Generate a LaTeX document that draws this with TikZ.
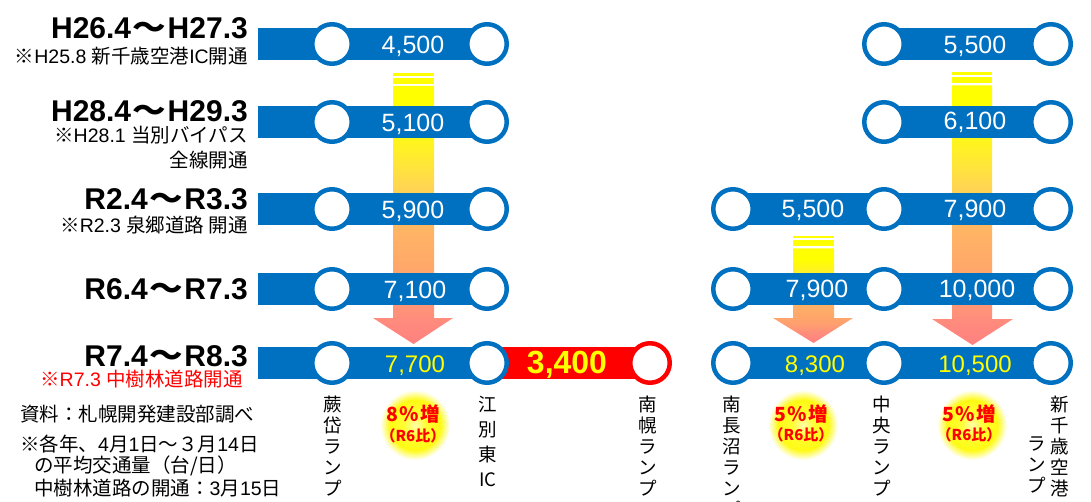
\documentclass[tikz,border=0pt]{standalone}
\usepackage{graphicx}
\usepackage{fontspec}
\setmainfont{Liberation Sans}
\newfontfamily\jp{Noto Sans CJK JP}
\usetikzlibrary{backgrounds}
\newcommand\fs[1]{\fontsize{#1}{#1}\selectfont}
\newcommand\wave{\hspace{1.5pt}\scalebox{1.12}[1]{\jp ～}\hspace{1.5pt}}
\definecolor{barblue}{RGB}{0,112,192}
\definecolor{barred}{RGB}{255,0,0}
\definecolor{numyel}{RGB}{255,255,0}
\definecolor{fa}{RGB}{255,128,128}
\definecolor{fb}{RGB}{255,140,125}
\definecolor{fc}{RGB}{255,160,110}
\definecolor{fd}{RGB}{255,180,100}
\definecolor{fe}{RGB}{255,215,80}
\definecolor{ff}{RGB}{255,240,40}
\definecolor{fg}{RGB}{255,255,0}
\definecolor{ga}{RGB}{255,255,170}
\definecolor{gb}{RGB}{255,255,50}
\definecolor{gc}{RGB}{255,250,20}
\pgfdeclareverticalshading{flow}{100bp}{color(0bp)=(fa); color(25bp)=(fa); color(30bp)=(fb); color(35.5bp)=(fc); color(47bp)=(fd); color(56bp)=(fe); color(62.5bp)=(ff); color(69.5bp)=(fg); color(100bp)=(fg)}
\pgfdeclareradialshading{glow}{\pgfpoint{0bp}{0bp}}{color(0bp)=(ga); color(8bp)=(gb); color(18bp)=(gc); color(25bp)=(white); color(50bp)=(white)}
\begin{document}
\begin{tikzpicture}[x=1pt,y=-1pt,
  stn/.style={circle, draw=barblue, line width=4.5pt, fill=white, minimum size=39.5pt, inner sep=0pt},
  redstn/.style={stn, draw=barred},
  bar/.style={line width=32pt, barblue},
  redbar/.style={line width=32pt, barred},
  num/.style={anchor=base, inner sep=0pt, text=white, font=\fs{25}},
  ynum/.style={anchor=base, inner sep=0pt, text=numyel, font=\fs{24}},
  bignum/.style={anchor=base, inner sep=0pt, text=numyel, font=\bfseries\fs{32}},
  title/.style={anchor=base east, inner sep=0pt, font=\bfseries\fs{30}},
  sub/.style={anchor=base east, inner sep=0pt, font=\fs{19.5}},
  note/.style={anchor=base west, inner sep=0pt, font=\fs{19.5}},
  vlab/.style={anchor=north, align=center, inner sep=0pt, font=\jp\fontsize{18.5}{21}\selectfont},
  badge/.style={circle, minimum size=70pt, inner sep=0pt, shading=glow},
  pcta/.style={inner sep=0pt, text=red, font=\jp\bfseries\fs{19.5}},
  pctb/.style={inner sep=0pt, text=red, font=\jp\bfseries\fs{15}},
  stripe/.style={fill=fg}]
\useasboundingbox (0,0) rectangle (1091,502);

% ---- period titles ----
\node[title] (t1) at (248,39) {H26.4\wave H27.3};
\node[sub] (s1) at (248,64) {{\jp ※}H25.8 {\jp 新千歳空港}IC{\jp 開通}};
\node[title] (t2) at (248,121.5) {H28.4\wave H29.3};
\node[sub] (s2a) at (248,142.5) {{\jp ※}H28.1 {\jp 当別バイパス}};
\node[sub] (s2b) at (248,168) {{\jp 全線開通}};
\node[title] (t3) at (248,210) {R2.4\wave R3.3};
\node[sub] (s3) at (248,233) {{\jp ※}R2.3 {\jp 泉郷道路 開通}};
\node[title] (t4) at (248,300) {R6.4\wave R7.3};
\node[title] (t5) at (248,366) {R7.4\wave R8.3};
\node[sub, text=red] (s5) at (243,386.5) {{\jp ※}R7.3 {\jp 中樹林道路開通}};

% ---- notes ----
\node[note] (n1) at (20,421) {{\jp 資料：札幌開発建設部調べ}};
\node[note] (n2) at (20,451.5) {{\jp ※各年、}4{\jp 月}1{\jp 日～３月}14{\jp 日}};
\node[note] (n3) at (34,472) {{\jp の平均交通量（台/日）}};
\node[note] (n4) at (34,495) {{\jp 中樹林道路の開通：}3{\jp 月}15{\jp 日}};

% ---- station circles ----
\foreach \r/\y in {1/44,2/122,3/209,4/289,5/363}{
  \coordinate (L\r) at (258,\y);
  \node[stn] (a\r) at (332,\y) {};
  \node[stn] (b\r) at (487,\y) {};
  \node[stn] (d\r) at (884,\y) {};
  \node[stn] (e\r) at (1051,\y) {};
}
\foreach \r/\y in {3/209,4/289,5/363}{
  \node[stn] (c\r) at (733,\y) {};
}
\node[redstn] (r5) at (650,363) {};

% ---- numbers ----
\node[num] (x1) at (413,53.5) {4,500};
\node[num] (x2) at (413,131.5) {5,100};
\node[num] (x3) at (413,218.5) {5,900};
\node[num] (x4) at (415,298.5) {7,100};
\node[ynum] (x5) at (415,372) {7,700};
\node[bignum] (x6) at (567,373.5) {3,400};
\node[num] (y1) at (975,53.5) {5,500};
\node[num] (y2) at (975,130) {6,100};
\node[num] (w3) at (813,217.5) {5,500};
\node[num] (y3) at (975,217.5) {7,900};
\node[num] (w4) at (817,297.5) {7,900};
\node[num] (y4) at (977,297.5) {10,000};
\node[ynum] (w5) at (815,372) {8,300};
\node[ynum] (y5) at (975,372) {10,500};

% ---- vertical station labels ----
\node[vlab] (v1) at (333,396) {蕨\\岱\\ラ\\ン\\プ};
\node[vlab, font=\jp\fontsize{18.5}{25}\selectfont] (v2) at (488,396) {江\\別\\東\\IC};
\node[vlab] (v3) at (648,396) {南\\幌\\ラ\\ン\\プ};
\node[vlab] (v4) at (732,396) {南\\長\\沼\\ラ\\ン\\プ};
\node[vlab] (v5) at (882,396) {中\\央\\ラ\\ン\\プ};
\node[vlab] (v6) at (1060,396) {新\\千\\歳\\空\\港};
\node[vlab] (v7) at (1037,437) {ラ\\ン\\プ};

% ---- growth badges ----
\node[badge] (g1) at (415,425) {};
\node[pcta] (p1) at (413,414.5) {8\hspace{2pt}％\hspace{1pt}増};
\node[pctb] (q1) at (413,436) {（R6比）};
\node[badge] (g2) at (803,425) {};
\node[pcta] (p2) at (801,414.5) {5\hspace{2pt}％\hspace{1pt}増};
\node[pctb] (q2) at (801,435) {（R6比）};
\node[badge] (g3) at (972,425) {};
\node[pcta] (p3) at (969,414.5) {5\hspace{2pt}％\hspace{1pt}増};
\node[pctb] (q3) at (969,435) {（R6比）};

\begin{scope}[on background layer]
  % flow arrows
  \fill[stripe] (393,72.7) rectangle (434,75.7);
  \fill[stripe] (393,78.3) rectangle (434,84);
  \shade[shading=flow] (393,86) -- (434,86) -- (434,318) -- (453,318) -- (413.5,344) -- (373,318) -- (393,318) -- cycle;
  \fill[stripe] (952,72) rectangle (992,75);
  \fill[stripe] (952,77.5) rectangle (992,83);
  \shade[shading=flow] (952,85.5) -- (992,85.5) -- (992,319) -- (1013,319) -- (972.5,345) -- (932,319) -- (952,319) -- cycle;
  \fill[stripe] (793,236) rectangle (834,238.5);
  \fill[stripe] (793,240.5) rectangle (834,246.5);
  \shade[shading=flow] (793,248.5) -- (834,248.5) -- (834,318) -- (853,318) -- (813.5,343) -- (773,318) -- (793,318) -- cycle;
  % bars
  \foreach \r in {1,...,5}{
    \draw[bar] (L\r) -- (b\r.center);
  }
  \draw[bar] (d1.center) -- (e1.center);
  \draw[bar] (d2.center) -- (e2.center);
  \foreach \r in {3,4,5}{
    \draw[bar] (c\r.center) -- (e\r.center);
  }
  \draw[redbar] (b5.center) -- (r5.center);
\end{scope}
\end{tikzpicture}
\end{document}
